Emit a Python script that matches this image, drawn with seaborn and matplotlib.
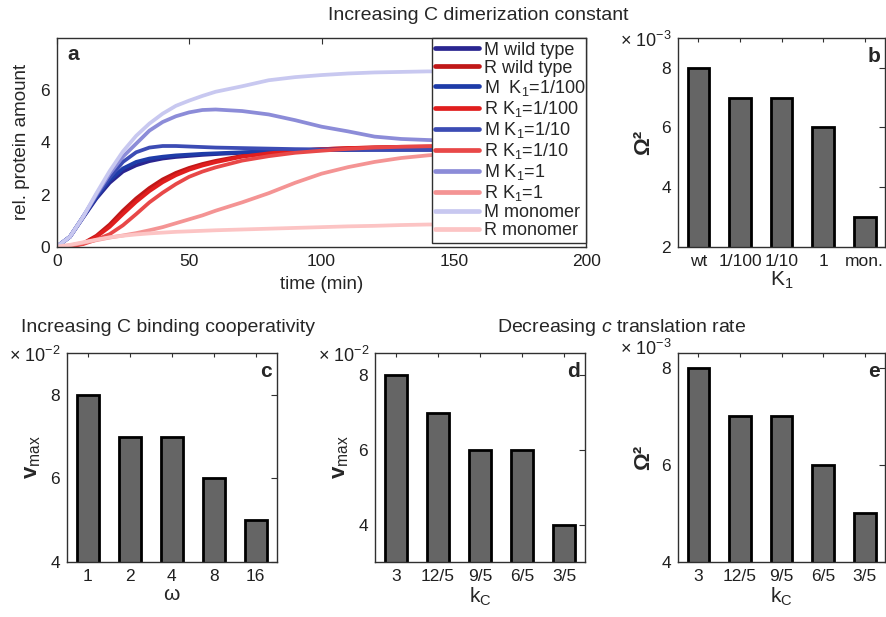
import numpy as np
import pandas as pd
import matplotlib
matplotlib.use("Agg")
import matplotlib.pyplot as plt
from matplotlib.lines import Line2D
import seaborn as sns

# ---------------- data ----------------
time_min = [0, 5, 10, 15, 20, 25, 30, 35, 40, 45, 50, 55, 60, 70, 80, 90, 100, 110, 120, 130, 140, 150]

m_wild = [0, 0.38, 1.12, 1.85, 2.45, 2.88, 3.12, 3.28, 3.38, 3.44, 3.48, 3.52, 3.55, 3.60, 3.64, 3.68, 3.70, 3.71, 3.72, 3.72, 3.72, 3.72]
r_wild = [0, 0.02, 0.13, 0.42, 0.85, 1.38, 1.85, 2.25, 2.58, 2.83, 3.02, 3.17, 3.29, 3.48, 3.60, 3.68, 3.74, 3.78, 3.80, 3.82, 3.83, 3.84]
m_k100 = [0, 0.38, 1.15, 1.90, 2.55, 3.00, 3.25, 3.38, 3.45, 3.50, 3.53, 3.56, 3.58, 3.62, 3.66, 3.69, 3.71, 3.72, 3.72, 3.72, 3.72, 3.72]
r_k100 = [0, 0.02, 0.12, 0.38, 0.76, 1.25, 1.72, 2.13, 2.47, 2.74, 2.95, 3.11, 3.24, 3.45, 3.58, 3.67, 3.74, 3.78, 3.81, 3.83, 3.84, 3.85]
m_k10 = [0, 0.38, 1.15, 1.95, 2.65, 3.25, 3.62, 3.80, 3.86, 3.86, 3.84, 3.82, 3.80, 3.78, 3.76, 3.74, 3.73, 3.72, 3.72, 3.72, 3.72, 3.72]
r_k10 = [0, 0.02, 0.10, 0.27, 0.48, 0.82, 1.25, 1.70, 2.07, 2.40, 2.68, 2.88, 3.04, 3.30, 3.47, 3.60, 3.68, 3.75, 3.80, 3.83, 3.85, 3.86]
m_k1 = [0, 0.38, 1.15, 2.00, 2.80, 3.45, 3.95, 4.45, 4.78, 5.00, 5.15, 5.24, 5.26, 5.20, 5.07, 4.85, 4.60, 4.42, 4.22, 4.13, 4.09, 4.06]
r_k1 = [0, 0.05, 0.15, 0.25, 0.35, 0.43, 0.52, 0.63, 0.75, 0.90, 1.05, 1.20, 1.38, 1.70, 2.05, 2.45, 2.80, 3.05, 3.25, 3.40, 3.50, 3.58]
m_mono = [0, 0.38, 1.15, 2.05, 2.90, 3.65, 4.25, 4.72, 5.10, 5.40, 5.60, 5.78, 5.94, 6.15, 6.38, 6.50, 6.58, 6.64, 6.68, 6.70, 6.72, 6.72]
r_mono = [0, 0.07, 0.17, 0.27, 0.36, 0.42, 0.47, 0.51, 0.54, 0.57, 0.59, 0.61, 0.63, 0.66, 0.69, 0.72, 0.75, 0.78, 0.80, 0.83, 0.85, 0.86]

series_labels = ["M wild type", "R wild type", "M  K$_1$=1/100", "R K$_1$=1/100",
                 "M K$_1$=1/10", "R K$_1$=1/10", "M K$_1$=1", "R K$_1$=1",
                 "M monomer", "R monomer"]
series_values = [m_wild, r_wild, m_k100, r_k100, m_k10, r_k10, m_k1, r_k1, m_mono, r_mono]
series_colors = ["#2a2590", "#c01818", "#1e3ca8", "#e01e1e", "#3c4cb4",
                 "#e84848", "#8c8cd8", "#f49494", "#c8c8f0", "#fcc4c4"]

b_cats = ["wt", "1/100", "1/10", "1", "mon."]
b_vals = [8, 7, 7, 6, 3]          # x 10^-3
c_cats = ["1", "2", "4", "8", "16"]
c_vals = [8, 7, 7, 6, 5]          # x 10^-2
d_cats = ["3", "12/5", "9/5", "6/5", "3/5"]
d_vals = [8, 7, 6, 6, 4]          # x 10^-2
e_cats = ["3", "12/5", "9/5", "6/5", "3/5"]
e_vals = [8, 7, 7, 6, 5]          # x 10^-3

# ---------------- style ----------------
sns.set_style("white")
plt.rcParams["font.family"] = ["Liberation Sans", "DejaVu Sans"]
plt.rcParams["mathtext.fontset"] = "custom"
plt.rcParams["mathtext.rm"] = "Liberation Sans"
plt.rcParams["mathtext.it"] = "Liberation Sans:italic"
plt.rcParams["mathtext.bf"] = "Liberation Sans:bold"
plt.rcParams["axes.edgecolor"] = "#303030"
plt.rcParams["axes.linewidth"] = 1.0

W, H = 887, 617
fig = plt.figure(figsize=(W / 100, H / 100), dpi=100)


def add_ax(left, top, right, bottom):
    return fig.add_axes([left / W, 1 - bottom / H, (right - left) / W, (bottom - top) / H])


def style_ticks(ax):
    ax.tick_params(direction="in", length=4, width=0.8, top=True, right=True,
                   labelsize=12.5, colors="#303030", labelcolor="#202020", pad=5)
    for s in ax.spines.values():
        s.set_visible(True)
        s.set_color("#303030")


ax_a = add_ax(56.7, 38, 586.5, 246.7)
ax_b = add_ax(677.7, 38, 885.5, 246.7)
ax_c = add_ax(66.7, 353, 276.7, 562)
ax_d = add_ax(375, 353, 585, 562)
ax_e = add_ax(677.7, 353, 885.5, 562)

# ---------------- panel a ----------------
rows = []
for lab, vals in zip(series_labels, series_values):
    for t, v in zip(time_min, vals):
        rows.append((lab, t, v))
df = pd.DataFrame(rows, columns=["series", "t", "v"])
sns.lineplot(data=df, x="t", y="v", hue="series", hue_order=series_labels,
             palette=dict(zip(series_labels, series_colors)), linewidth=2.7,
             errorbar=None, legend=False, ax=ax_a)
ax_a.set_xlim(0, 200)
ax_a.set_ylim(0, 8)
ax_a.set_xticks([0, 50, 100, 150, 200])
ax_a.set_yticks([0, 2, 4, 6])
style_ticks(ax_a)
ax_a.set_xlabel("time (min)", fontsize=13.5, labelpad=5)
ax_a.set_ylabel("rel. protein amount", fontsize=13.5, labelpad=7)
ax_a.text(0.02, 0.965, "a", transform=ax_a.transAxes, ha="left", va="top",
          fontsize=15, fontweight="bold")
handles = [Line2D([0], [0], color=c, lw=3.4) for c in series_colors]
leg = ax_a.legend(handles, series_labels, loc="upper left",
                  bbox_to_anchor=(0.708, 0.0, 0.292, 1.0), mode="expand",
                  borderaxespad=0, fontsize=13, labelspacing=0.06, handlelength=2.4,
                  handletextpad=0.3, borderpad=0.2, frameon=True, fancybox=False,
                  framealpha=1, edgecolor="#303030")
leg.get_frame().set_linewidth(1.0)

# ---------------- bar panels ----------------
def bar_panel(ax, cats, vals, ylim, yticks, letter, xlabel, ylabel, offset, off_dy=3):
    sns.barplot(x=cats, y=vals, order=cats, color="#656565", saturation=1,
                width=0.52, edgecolor="black", linewidth=2.0, ax=ax)
    ax.set_xlim(-0.5, 4.5)
    ax.set_ylim(*ylim)
    ax.set_yticks(yticks)
    style_ticks(ax)
    ax.tick_params(axis="x", length=3)
    ax.set_xlabel(xlabel, fontsize=15, labelpad=1)
    ax.set_ylabel(ylabel, fontsize=16, labelpad=5)
    ax.text(0.975, 0.955, letter, transform=ax.transAxes, ha="right", va="top",
            fontsize=15, fontweight="bold")
    pos = ax.get_position()
    fig.text(pos.x0 - 6 / W, pos.y1 - off_dy / H, "\u00d7 10$^{%s}$" % offset,
             ha="right", va="center", fontsize=13, color="#202020")


bar_panel(ax_b, b_cats, b_vals, (2, 9), [2, 4, 6, 8], "b", "K$_1$", "\u03a9\u00b2", "-3")
bar_panel(ax_c, c_cats, c_vals, (4, 9), [4, 6, 8], "c", "\u03c9", "$\\mathbf{v}_{\\mathrm{max}}$", "-2")
bar_panel(ax_d, d_cats, d_vals, (3, 8.6), [4, 6, 8], "d", "k$_\\mathrm{C}$", "$\\mathbf{v}_{\\mathrm{max}}$", "-2")
bar_panel(ax_e, e_cats, e_vals, (4, 8.3), [4, 6, 8], "e", "k$_\\mathrm{C}$", "\u03a9\u00b2", "-3", off_dy=-4)
for ax in (ax_b, ax_e):
    ax.yaxis.label.set_fontweight("bold")

# ---------------- titles ----------------
fig.text(478 / W, 1 - 15 / H, "Increasing C dimerization constant", ha="center", va="center", fontsize=14)
fig.text(168 / W, 1 - 328 / H, "Increasing C binding cooperativity", ha="center", va="center", fontsize=14)
fig.text(622 / W, 1 - 328 / H, "Decreasing $\\it{c}$ translation rate", ha="center", va="center", fontsize=14)

fig.savefig("out.png", dpi=100)
